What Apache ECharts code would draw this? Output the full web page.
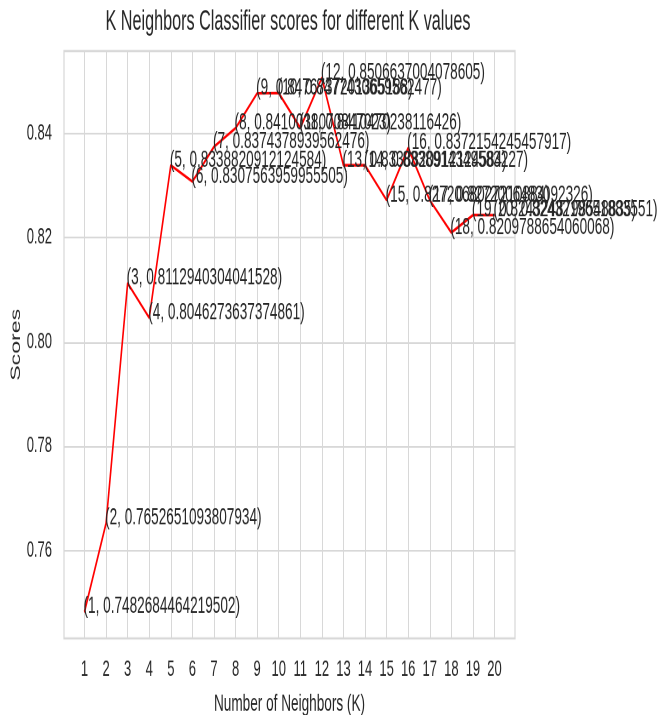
<!DOCTYPE html>
<html>
<head>
<meta charset="utf-8">
<script src="https://cdn.jsdelivr.net/npm/echarts@6/dist/echarts.min.js"></script>
<style>
html,body{margin:0;padding:0;background:#fff;}
#wrap{width:657px;height:715px;overflow:hidden;position:relative;}
#c{width:657px;height:420px;transform:scaleY(1.7024);transform-origin:0 0;}
</style>
</head>
<body>
<div id="wrap"><div id="c"></div></div>
<script>
const kValues = [1,2,3,4,5,6,7,8,9,10,11,12,13,14,15,16,17,18,19,20];
const scores = [
  0.7482684464219502, 0.7652651093807934, 0.8112940304041528, 0.8046273637374861,
  0.8338820912124584, 0.8307563959955505, 0.8374378939562476, 0.8410038070847023,
  0.8476737201365188, 0.8477430659562477, 0.8410470238116426, 0.8506637004078605,
  0.8338820912124584, 0.8338914349583227, 0.8272068027210884, 0.8372154245457917,
  0.8272006483092326, 0.8209788654060068, 0.8243248798548835, 0.8243219651883551
];
const yTicks = [0.76, 0.78, 0.80, 0.82, 0.84];
const xTicks = kValues;

const FONT = "'Liberation Sans', Arial, sans-serif";
const TXT = '#262626';
const GRID = '#d8d8d8';

const chart = echarts.init(document.getElementById('c'), null, {renderer: 'canvas', devicePixelRatio: 2});
const yMin = 0.7431486836;
const yMax = 0.8557834632;
chart.setOption({
  animation: false,
  backgroundColor: '#ffffff',
  textStyle: {fontFamily: FONT, color: TXT},
  title: {
    text: 'K Neighbors Classifier scores for different K values',
    left: 283, top: 0, textAlign: 'center',
    textStyle: {fontFamily: FONT, fontSize: 16.2, fontWeight: 'normal', color: TXT}
  },
  grid: {left: 64, right: 142, top: 30, bottom: 45, show: true, borderColor: GRID, borderWidth: 1.2,
    containLabel: false, outerBoundsMode: 'none'},
  xAxis: {
    type: 'value', min: 0.05, max: 20.95,
    name: 'Number of Neighbors (K)', nameLocation: 'middle', nameGap: 31.5,
    nameTextStyle: {fontFamily: FONT, fontSize: 13.6, color: TXT},
    axisLine: {show: false}, axisTick: {show: false, customValues: xTicks},
    axisLabel: {customValues: xTicks, margin: 12, fontFamily: FONT, fontSize: 13, color: TXT},
    splitLine: {show: true, lineStyle: {color: GRID, width: 1}}
  },
  yAxis: {
    type: 'value', min: yMin, max: yMax,
    name: 'Scores', nameLocation: 'middle', nameGap: 41, nameMoveOverlap: false,
    nameTextStyle: {fontFamily: FONT, fontSize: 13.6, color: TXT},
    axisLine: {show: false}, axisTick: {show: false, customValues: yTicks},
    axisLabel: {customValues: yTicks, margin: 12, fontFamily: FONT, fontSize: 13, color: TXT,
      formatter: v => Number(v).toFixed(2)},
    splitLine: {show: true, lineStyle: {color: GRID, width: 1}}
  },
  series: [{
    type: 'line',
    data: kValues.map((k, i) => [k, scores[i]]),
    lineStyle: {color: '#ff0000', width: 1.6},
    itemStyle: {color: '#ff0000'},
    symbol: 'circle', symbolSize: 1, showSymbol: true,
    labelLayout: {hideOverlap: false},
    label: {
      show: true, position: [-0.5, 4.5], align: 'left', verticalAlign: 'bottom',
      fontFamily: FONT, fontSize: 13.6, color: TXT,
      formatter: p => '(' + p.value[0] + ', ' + p.value[1] + ')'
    },
    emphasis: {disabled: true}
  }]
});
</script>
</body>
</html>
